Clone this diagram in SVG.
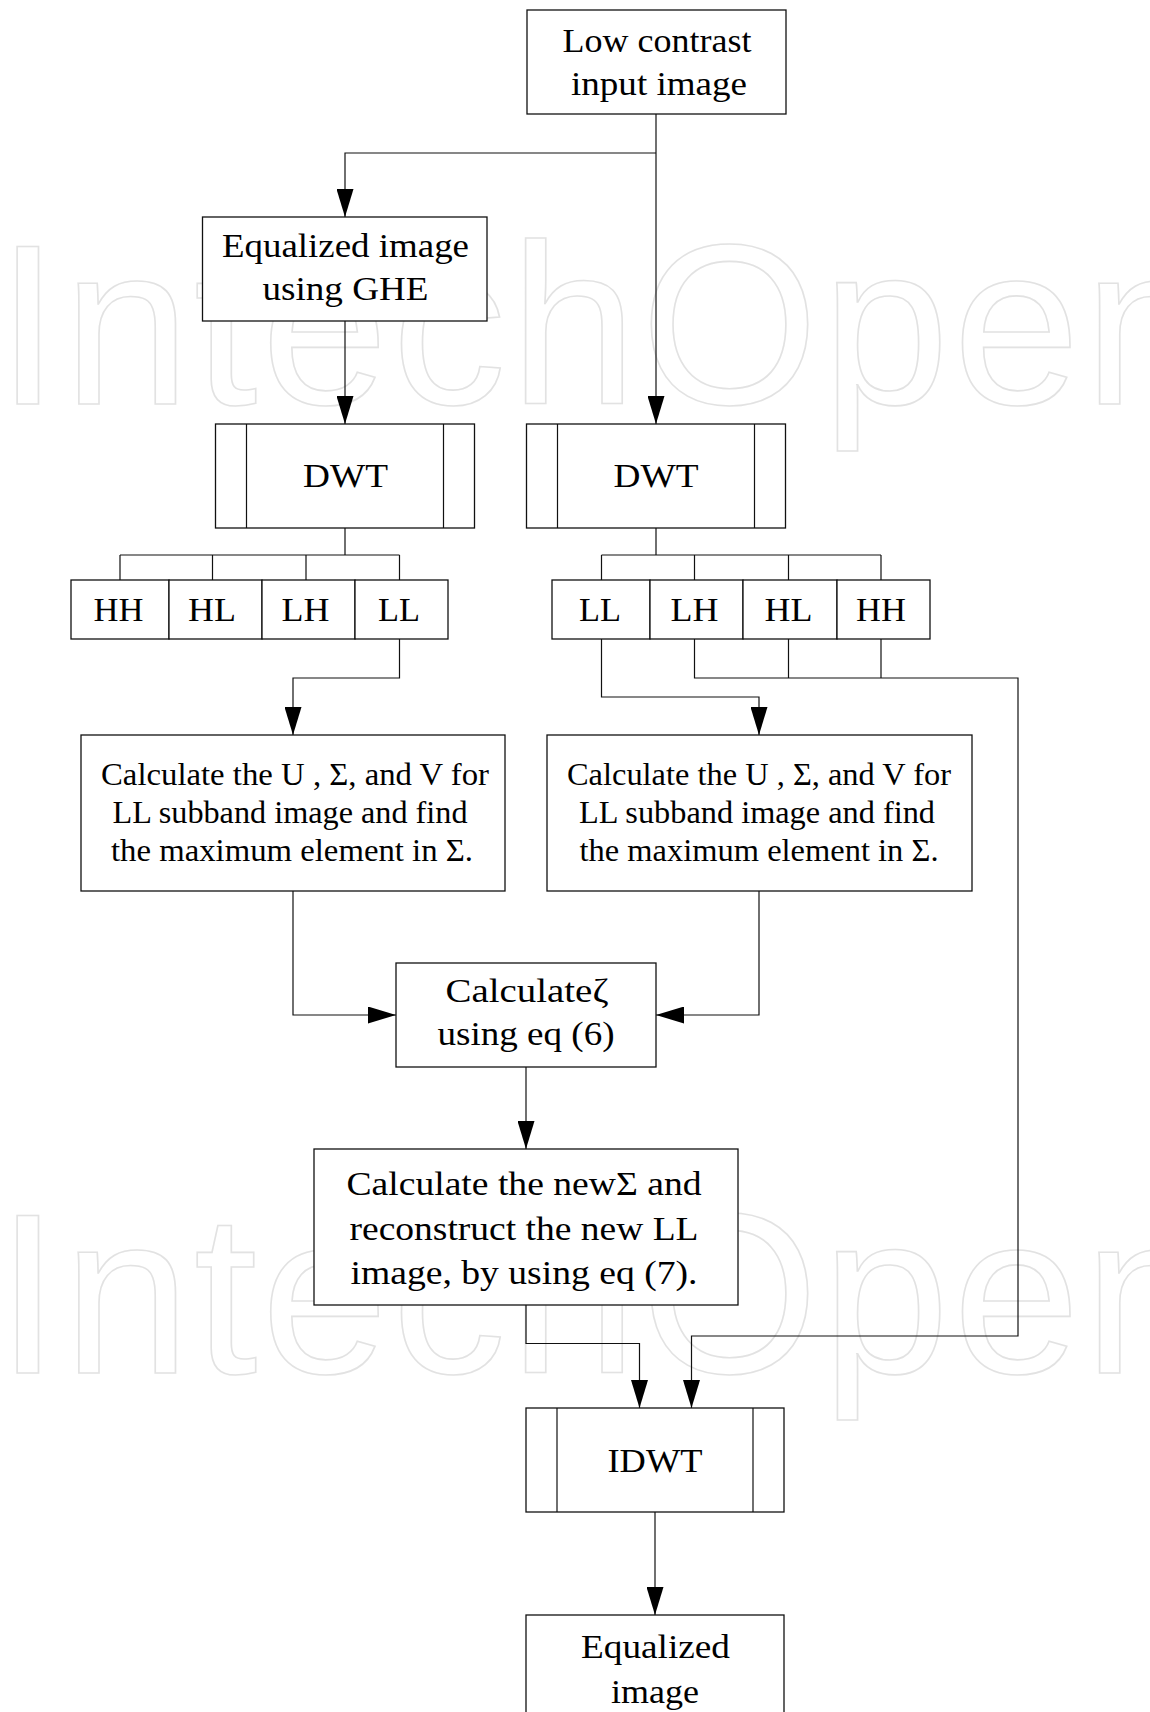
<svg xmlns="http://www.w3.org/2000/svg" width="1150" height="1712" viewBox="0 0 1150 1712">
<style>
.wm{font-family:"Liberation Sans",Arial,sans-serif;font-size:229px;fill:#fff;stroke:#e2e2e2;stroke-width:1.6}
.box{fill:#fff;stroke:#111;stroke-width:1.3}
.ln{fill:none;stroke:#111;stroke-width:1.2}
.t{font-family:"Liberation Serif","Times New Roman",serif;font-size:33px;fill:#000;text-anchor:middle}
.s{font-family:"Liberation Serif","Times New Roman",serif;font-size:32px;fill:#000;text-anchor:middle}
.c{fill:none;stroke:#111;stroke-width:1.2}
.ca{fill:none;stroke:#111;stroke-width:1.2;marker-end:url(#arr)}
</style>
<defs>
<marker id="arr" markerUnits="userSpaceOnUse" markerWidth="28" markerHeight="17" viewBox="0 0 28 17" refX="28" refY="8.5" orient="auto">
<path d="M0,0 L28,8.5 L0,17 z" fill="#000"/>
</marker>
</defs>
<rect x="0" y="0" width="1150" height="1712" fill="#fff"/>
<g id="watermark">
<text class="wm" x="-4" y="404" textLength="1215" lengthAdjust="spacing">IntechOpen</text>
<text class="wm" x="-4" y="1373" textLength="1215" lengthAdjust="spacing">IntechOpen</text>
</g>
<g id="connectors">
<path class="ca" d="M656,114 V424"/>
<path class="ca" d="M656,153 H345 V217"/>
<path class="ca" d="M345,321 V424"/>
<path class="c" d="M345,528 V555 M120,555 H399.5 M120,555 V580 M212.5,555 V580 M306,555 V580 M399.5,555 V580"/>
<path class="c" d="M656,528 V555 M601.5,555 H881 M601.5,555 V580 M694.5,555 V580 M788.5,555 V580 M881,555 V580"/>
<path class="ca" d="M399.5,639 V678 H293 V735"/>
<path class="ca" d="M601.5,639 V697 H759 V735"/>
<path class="ca" d="M694.5,639 V678 H1018 V1336 H691.5 V1408"/>
<path class="c" d="M788.5,639 V678 M881,639 V678"/>
<path class="ca" d="M293,891 V1015 H396"/>
<path class="ca" d="M759,891 V1015 H656"/>
<path class="ca" d="M526,1067 V1149"/>
<path class="ca" d="M526,1305 V1343.5 H639.5 V1408"/>
<path class="ca" d="M655,1512 V1615"/>
</g>
<g id="input">
<rect class="box" x="527" y="10" width="259" height="104"/>
<text class="t" x="657" y="52" textLength="189" lengthAdjust="spacingAndGlyphs">Low contrast</text>
<text class="t" x="659" y="95" textLength="176" lengthAdjust="spacingAndGlyphs">input image</text>
</g>
<g id="ghe">
<rect class="box" x="202.5" y="217" width="284.5" height="104"/>
<text class="t" x="345.5" y="257" textLength="247" lengthAdjust="spacingAndGlyphs">Equalized image</text>
<text class="t" x="345.5" y="300" textLength="166" lengthAdjust="spacingAndGlyphs">using GHE</text>
</g>
<g id="dwt-left">
<rect class="box" x="215.5" y="424" width="259" height="104"/>
<path class="ln" d="M246.5,424 V528 M443.5,424 V528"/>
<text class="t" x="345.5" y="487" textLength="85" lengthAdjust="spacingAndGlyphs">DWT</text>
</g>
<g id="dwt-right">
<rect class="box" x="526.5" y="424" width="259" height="104"/>
<path class="ln" d="M557.5,424 V528 M754.5,424 V528"/>
<text class="t" x="656" y="487" textLength="85" lengthAdjust="spacingAndGlyphs">DWT</text>
</g>
<g id="subbands-left">
<rect class="box" x="71" y="580" width="98" height="59"/>
<rect class="box" x="169" y="580" width="93" height="59"/>
<rect class="box" x="262" y="580" width="93" height="59"/>
<rect class="box" x="355" y="580" width="93" height="59"/>
<text class="t" x="118.5" y="621" textLength="50" lengthAdjust="spacingAndGlyphs">HH</text>
<text class="t" x="212" y="621" textLength="48" lengthAdjust="spacingAndGlyphs">HL</text>
<text class="t" x="305.5" y="621" textLength="48" lengthAdjust="spacingAndGlyphs">LH</text>
<text class="t" x="399" y="621" textLength="42" lengthAdjust="spacingAndGlyphs">LL</text>
</g>
<g id="subbands-right">
<rect class="box" x="552" y="580" width="98" height="59"/>
<rect class="box" x="650" y="580" width="93" height="59"/>
<rect class="box" x="743" y="580" width="94" height="59"/>
<rect class="box" x="837" y="580" width="93" height="59"/>
<text class="t" x="600" y="621" textLength="42" lengthAdjust="spacingAndGlyphs">LL</text>
<text class="t" x="694.5" y="621" textLength="48" lengthAdjust="spacingAndGlyphs">LH</text>
<text class="t" x="788.5" y="621" textLength="48" lengthAdjust="spacingAndGlyphs">HL</text>
<text class="t" x="881" y="621" textLength="50" lengthAdjust="spacingAndGlyphs">HH</text>
</g>
<g id="svd-left">
<rect class="box" x="81" y="735" width="424" height="156"/>
<text class="s" x="295" y="785" textLength="388" lengthAdjust="spacingAndGlyphs">Calculate the U , Σ, and V  for</text>
<text class="s" x="290" y="823" textLength="355" lengthAdjust="spacingAndGlyphs">LL subband image and find</text>
<text class="s" x="292" y="861" textLength="362" lengthAdjust="spacingAndGlyphs">the maximum element  in Σ.</text>
</g>
<g id="svd-right">
<rect class="box" x="547" y="735" width="425" height="156"/>
<text class="s" x="759" y="785" textLength="384" lengthAdjust="spacingAndGlyphs">Calculate the U , Σ, and V  for</text>
<text class="s" x="757" y="823" textLength="356" lengthAdjust="spacingAndGlyphs">LL subband image and find</text>
<text class="s" x="759" y="861" textLength="359" lengthAdjust="spacingAndGlyphs">the maximum element  in Σ.</text>
</g>
<g id="zeta">
<rect class="box" x="396" y="963" width="260" height="104"/>
<text class="t" x="527" y="1002" textLength="163" lengthAdjust="spacingAndGlyphs">Calculateζ</text>
<text class="t" x="526" y="1045" textLength="177" lengthAdjust="spacingAndGlyphs">using eq (6)</text>
</g>
<g id="new-sigma">
<rect class="box" x="314" y="1149" width="424" height="156"/>
<text class="t" x="524" y="1195" textLength="355" lengthAdjust="spacingAndGlyphs">Calculate the newΣ and</text>
<text class="t" x="524" y="1240" textLength="349" lengthAdjust="spacingAndGlyphs">reconstruct the new LL</text>
<text class="t" x="524" y="1284" textLength="347" lengthAdjust="spacingAndGlyphs">image, by using eq (7).</text>
</g>
<g id="idwt">
<rect class="box" x="526" y="1408" width="258" height="104"/>
<path class="ln" d="M557,1408 V1512 M753,1408 V1512"/>
<text class="t" x="655" y="1472" textLength="95" lengthAdjust="spacingAndGlyphs">IDWT</text>
</g>
<g id="output">
<rect class="box" x="526" y="1615" width="258" height="120"/>
<text class="t" x="655.5" y="1658" textLength="149" lengthAdjust="spacingAndGlyphs">Equalized</text>
<text class="t" x="655" y="1703" textLength="88" lengthAdjust="spacingAndGlyphs">image</text>
</g>
</svg>
